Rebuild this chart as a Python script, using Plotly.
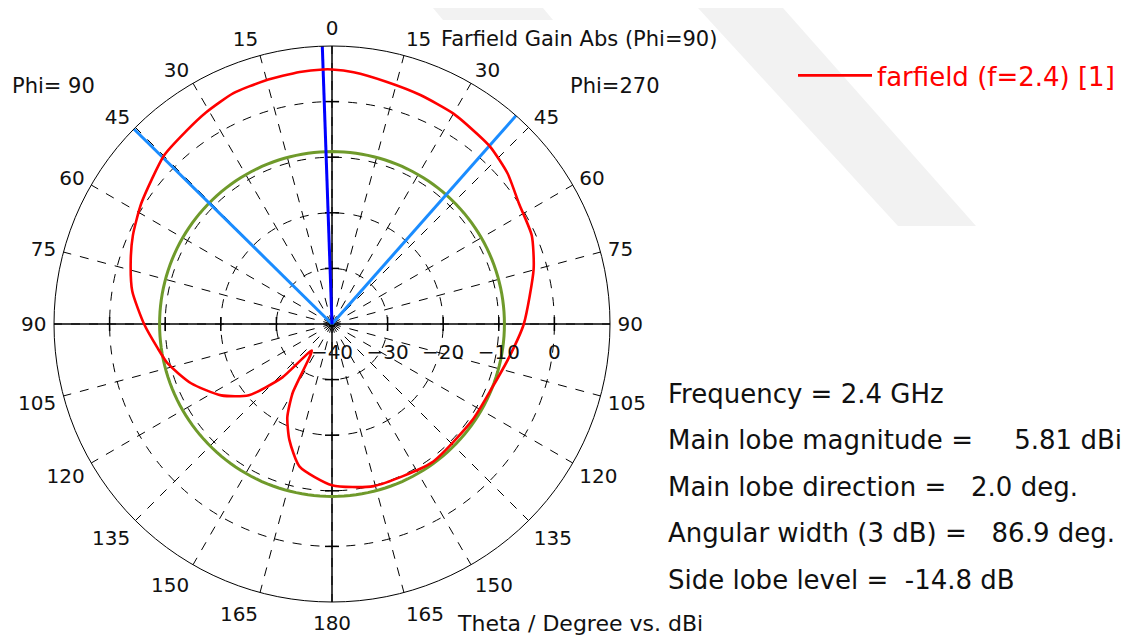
import plotly.graph_objs as go

# farfield gain cut (Phi=90 / Phi=270), theta positive towards the Phi=90 side
theta_deg = [-180, -165.6, -144.3, -124.4, -111.6, -100.7, -90, -74.7, -66.1, -57.2, -49.4, -42.0,
             -37.5, -29.9, -21.1, -12.8, -4.9, 0, 2, 7.3, 15.3, 23.1, 30.7, 37.1, 44.9, 57.6, 66.0,
             72.8, 80.7, 90, 97.7, 103.5, 112.8, 122.8, 130.6, 137.1, 142.8, 150.3, 154.4, 159.8,
             167.2, 180]
gain_dbi = [-11.0, -9.9, -9.3, -9.4, -9.0, -7.6, -5.5, -2.4, -0.7, 0.0, 1.6, 2.7,
            3.0, 3.7, 4.15, 4.65, 5.45, 5.78, 5.81, 5.7, 5.4, 5.15, 4.3, 3.5, 2.8, 0.6, -0.8,
            -2.1, -3.6, -6.2, -8.3, -9.6, -12.5, -16.3, -20.3, -26.9, -34.0, -25.7, -21.4, -17.8,
            -13.7, -11.0]

# results from the farfield
frequency_ghz = 2.4
main_lobe_mag = 5.81
main_lobe_dir = 2.0
angular_width = 86.9
side_lobe_level = -14.8

# axis ticks
radial_ticks = [-40, -30, -20, -10, 0]
angle_ticks = list(range(0, 360, 15))
angle_labels = [str(a) if a <= 180 else str(360 - a) for a in angle_ticks]

FONT = "DejaVu Sans"
W, H = 1134, 639


def px(x, y):
    # pixel position -> paper coordinates
    return x / W, 1 - y / H


def draw_farfield_polar():
    r_min, r_max = -40, 10
    traces = []

    # solid axes through the centre
    traces.append(go.Scatterpolar(theta=[90, 90, 270], r=[r_max, r_min, r_max], mode="lines",
                                  line=dict(color="black", width=1.5), showlegend=False, hoverinfo="skip"))
    traces.append(go.Scatterpolar(theta=[0, 0, 180], r=[r_max, r_min, r_max], mode="lines",
                                  line=dict(color="black", width=1.5), showlegend=False, hoverinfo="skip"))
    # small ticks on the axes
    traces.append(go.Scatterpolar(theta=[90] * 4 + [270] * 4, r=radial_ticks[1:] * 2, mode="markers",
                                  marker=dict(symbol="line-ns", size=10, line=dict(color="black", width=1.5)),
                                  showlegend=False, hoverinfo="skip"))
    traces.append(go.Scatterpolar(theta=[0] * 4 + [180] * 4, r=radial_ticks[1:] * 2, mode="markers",
                                  marker=dict(symbol="line-ew", size=10, line=dict(color="black", width=1.5)),
                                  showlegend=False, hoverinfo="skip"))

    # side lobe level circle
    sll = main_lobe_mag + side_lobe_level
    circle_theta = list(range(0, 361, 2))
    traces.append(go.Scatterpolar(theta=circle_theta, r=[sll] * len(circle_theta), mode="lines",
                                  line=dict(color="#6f9a2b", width=3), showlegend=False, hoverinfo="skip"))

    # 3 dB beam width lines and main lobe direction
    for t in [main_lobe_dir + angular_width / 2, main_lobe_dir - angular_width / 2]:
        traces.append(go.Scatterpolar(theta=[t, t], r=[r_min, r_max], mode="lines",
                                      line=dict(color="#1a8cff", width=3), showlegend=False, hoverinfo="skip"))
    traces.append(go.Scatterpolar(theta=[main_lobe_dir, main_lobe_dir], r=[r_min, r_max], mode="lines",
                                  line=dict(color="#0000ff", width=3), showlegend=False, hoverinfo="skip"))

    # farfield curve
    traces.append(go.Scatterpolar(theta=theta_deg, r=gain_dbi, mode="lines",
                                  line=dict(color="#ff0000", width=2.6, shape="spline", smoothing=0.6),
                                  name="farfield (f=%s) [1]" % frequency_ghz))

    # polar area, shifted a little to make up for plotly's own offset
    cx, cy, rad = 324, 316, 278
    x0, y0 = px(cx - rad, cy + rad)
    x1, y1 = px(cx + rad, cy - rad)
    tick_font = dict(family=FONT, size=20, color="#111111")

    layout = go.Layout(
        width=W, height=H,
        margin=dict(l=0, r=0, t=0, b=0),
        paper_bgcolor="white",
        font=dict(family=FONT, size=20, color="#111111"),
        polar=dict(
            domain=dict(x=[x0, x1], y=[y0, y1]),
            bgcolor="rgba(0,0,0,0)",
            angularaxis=dict(rotation=90, direction="counterclockwise",
                             tickmode="array", tickvals=angle_ticks, ticktext=angle_labels,
                             showline=True, linecolor="black", linewidth=1,
                             showgrid=True, gridcolor="black", gridwidth=1, griddash="dash",
                             ticks="outside", ticklen=3, tickcolor="rgba(0,0,0,0)", tickfont=tick_font),
            radialaxis=dict(range=[r_min, r_max], angle=0, tickangle=0, side="clockwise",
                            tickmode="array", tickvals=radial_ticks,
                            showline=False, ticks="outside", ticklen=10, tickcolor="rgba(0,0,0,0)",
                            showgrid=True, gridcolor="black", gridwidth=1, griddash="dash",
                            tickfont=tick_font),
        ),
        showlegend=True,
        legend=dict(x=785 / W, y=1 - 44 / H, xanchor="left", yanchor="top", itemwidth=74,
                    font=dict(family=FONT, size=26, color="#ff0000"), bgcolor="rgba(0,0,0,0)"),
    )

    # watermark bands in the background
    layout.shapes = [
        dict(type="path", xref="paper", yref="paper", layer="below", line=dict(width=0),
             fillcolor="#f2f2f2",
             path="M %f %f L %f %f L %f %f L %f %f Z" % (px(690, 0) + px(775, 0) + px(968, 218) + px(890, 218))),
        dict(type="path", xref="paper", yref="paper", layer="below", line=dict(width=0),
             fillcolor="#f2f2f2",
             path="M %f %f L %f %f L %f %f L %f %f Z" % (px(425, 0) + px(535, 0) + px(545, 12) + px(435, 12))),
    ]

    # texts, x is where the text starts in the reference
    annots = [
        ("Farfield Gain Abs (Phi=90)", 441, 31, 21),
        ("Phi= 90", 12, 78, 21),
        ("Phi=270", 570, 78, 21),
        ("Theta / Degree vs. dBi", 457, 615, 22),
        ("Frequency = %s GHz" % frequency_ghz, 668, 386, 26),
        ("Main lobe magnitude =     %.2f dBi" % main_lobe_mag, 668, 432, 26),
        ("Main lobe direction =   %.1f deg." % main_lobe_dir, 668, 479, 26),
        ("Angular width (3 dB) =   %.1f deg." % angular_width, 668, 525, 26),
        ("Side lobe level =  %.1f dB" % side_lobe_level, 668, 572, 26),
    ]
    layout.annotations = [
        dict(text=t.replace(" ", "&nbsp;"), x=px(x - 10, y)[0], y=px(x, y)[1], xref="paper", yref="paper",
             xanchor="left", yanchor="middle", showarrow=False, font=dict(family=FONT, size=s, color="#111111"))
        for t, x, y, s in annots
    ]

    figure = go.Figure(data=traces, layout=layout)
    figure.write_html("out.html")


if __name__ == "__main__":
    draw_farfield_polar()
